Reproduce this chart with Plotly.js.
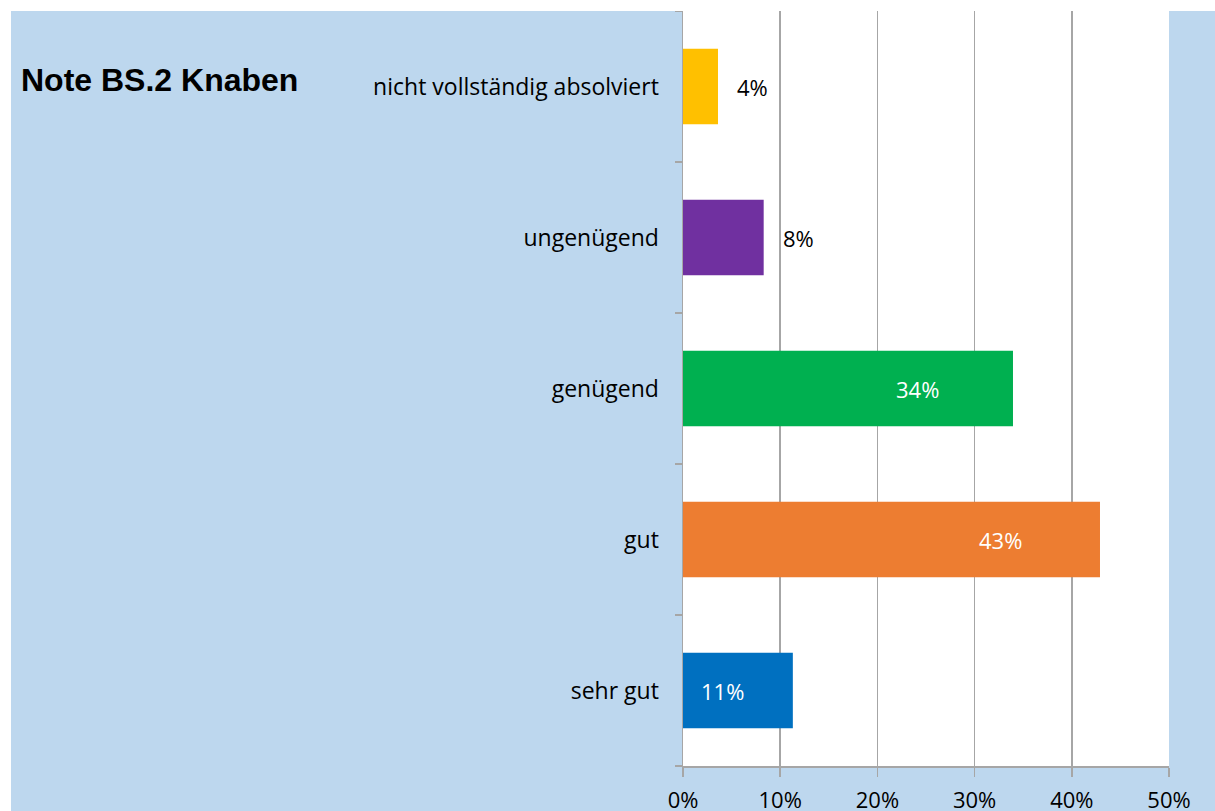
<!DOCTYPE html>
<html>
<head>
<meta charset="utf-8">
<script src="https://cdn.plot.ly/plotly-3.0.1.min.js"></script>
<style>
html, body { margin: 0; padding: 0; background: #ffffff; }
#chart { position: absolute; left: 11px; top: 11px; width: 1204px; height: 800px; }
</style>
</head>
<body>
<div id="chart"></div>
<script>
// Data (bottom to top as drawn)
const categories = ["sehr gut", "gut", "genügend", "ungenügend", "nicht vollständig absolviert"];
const values = [0.113, 0.429, 0.3395, 0.083, 0.036];
const valueLabels = ["11%", "43%", "34%", "8%", "4%"];
const tickValues = [0, 0.1, 0.2, 0.3, 0.4, 0.5];
const tickLabels = ["0%", "10%", "20%", "30%", "40%", "50%"];

// Styles
const barColors = ["#0070C0", "#ED7D31", "#00B050", "#7030A0", "#FFC000"];
const labelInside = [true, true, true, false, false];
const labelShift = [-47, -76, -72, 17, 17];
const labelColor = ["#ffffff", "#ffffff", "#ffffff", "#000000", "#000000"];
const bodyFont = "Open Sans, Noto Sans, sans-serif";

const trace = {
  type: "bar",
  orientation: "h",
  y: categories,
  x: values,
  marker: { color: barColors, line: { width: 0 } },
  hoverinfo: "none",
  width: 0.5
};

const annotations = values.map((v, i) => ({
  x: v,
  y: categories[i],
  xref: "x",
  yref: "y",
  text: valueLabels[i],
  showarrow: false,
  xanchor: labelInside[i] ? "right" : "left",
  yanchor: "middle",
  xshift: labelShift[i],
  font: { family: bodyFont, size: 22, color: labelColor[i] }
}));

const layout = {
  width: 1204,
  height: 800,
  paper_bgcolor: "#BDD7EE",
  plot_bgcolor: "#ffffff",
  margin: { l: 672, r: 46, t: 0, b: 45 },
  bargap: 0.5,
  showlegend: false,
  title: {
    text: "<b>Note BS.2 Knaben</b>",
    font: { family: "Liberation Sans, Arial, sans-serif", size: 32, color: "#000000" },
    xref: "container", yref: "container",
    x: 10 / 1204, xanchor: "left",
    y: 1 - 69 / 800, yanchor: "middle"
  },
  xaxis: {
    range: [0, 0.5],
    tickvals: tickValues,
    ticktext: tickLabels,
    showgrid: true,
    gridcolor: "#A6A6A6",
    gridwidth: 1.5,
    zeroline: false,
    showline: true,
    linecolor: "#A6A6A6",
    linewidth: 1.5,
    ticks: "outside",
    ticklen: 9,
    tickcolor: "#A6A6A6",
    tickwidth: 1.5,
    tickfont: { family: bodyFont, size: 22, color: "#000000" },
    ticklabelstandoff: 5,
    fixedrange: true
  },
  yaxis: {
    type: "category",
    categoryorder: "array",
    categoryarray: categories,
    showgrid: false,
    zeroline: false,
    showline: true,
    linecolor: "#A6A6A6",
    linewidth: 1.5,
    ticks: "outside",
    ticklen: 7,
    tickcolor: "#A6A6A6",
    tickwidth: 1.5,
    tickson: "boundaries",
    tickfont: { family: bodyFont, size: 23, color: "#000000" },
    ticklabelstandoff: 18,
    fixedrange: true
  },
  annotations: annotations
};

Plotly.newPlot("chart", [trace], layout, { displayModeBar: false, staticPlot: true });
</script>
</body>
</html>
